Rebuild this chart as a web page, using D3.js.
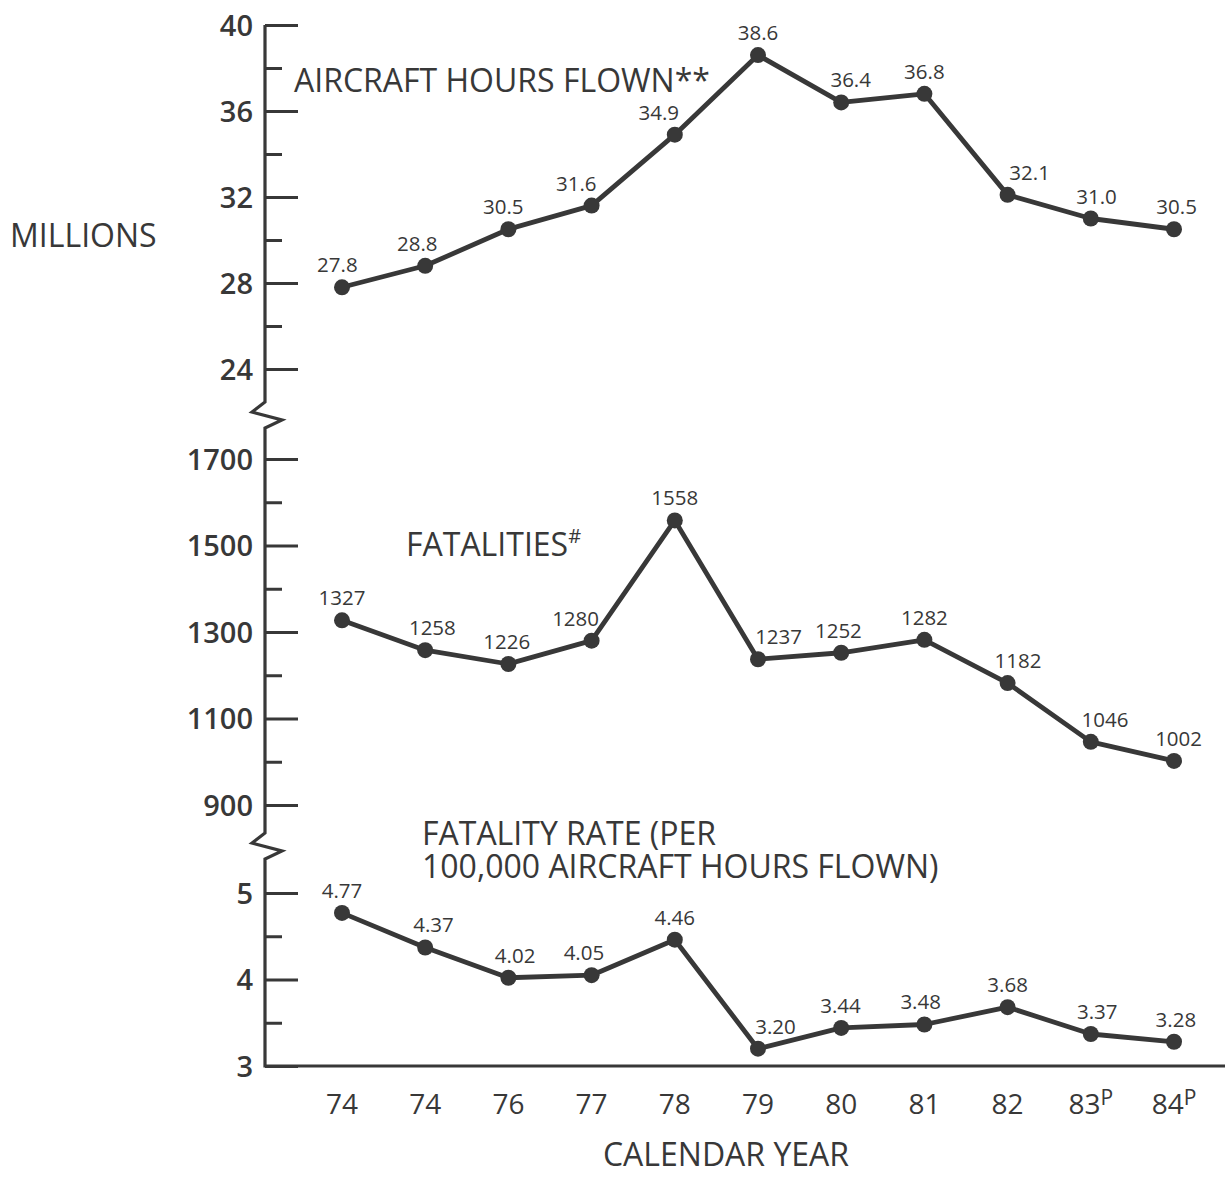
<!DOCTYPE html>
<meta charset="utf-8">
<style>
body { margin: 0; background: #fff; }
svg { display: block; font-family: "Open Sans", "Noto Sans", sans-serif; }
.ink { stroke: #383838; }
.tick text { fill: #383838; }
.axis path.domain { display: none; }
.axis line { stroke: #383838; stroke-width: 3; }
.series path { fill: none; stroke: #383838; stroke-width: 4.8; stroke-linejoin: round; }
.series circle { fill: #383838; }
.vlabel { fill: #383838; font-size: 20.5px; text-anchor: middle; }
.title { fill: #383838; font-size: 32px; }
</style>
<body>
<svg></svg>
</body>
<script src="https://cdn.jsdelivr.net/npm/d3@7"></script>
<script>

// data
var years = ["74", "74", "76", "77", "78", "79", "80", "81", "82", "83", "84"];
var yearSuffix = ["", "", "", "", "", "", "", "", "", "P", "P"];
var hoursFlown = [27.8, 28.8, 30.5, 31.6, 34.9, 38.6, 36.4, 36.8, 32.1, 31.0, 30.5];
var fatalities = [1327, 1258, 1226, 1280, 1558, 1237, 1252, 1282, 1182, 1046, 1002];
var fatalityRate = [4.77, 4.37, 4.02, 4.05, 4.46, 3.20, 3.44, 3.48, 3.68, 3.37, 3.28];

var hoursTicks = [24, 28, 32, 36, 40];
var hoursMinor = [26, 30, 34, 38];
var fatalTicks = [900, 1100, 1300, 1500, 1700];
var fatalMinor = [1000, 1200, 1400, 1600];
var rateTicks = [3, 4, 5];
var rateMinor = [3.5, 4.5];

var width = 1225, height = 1177;
var axisX = 265;

var svg = d3.select("svg").attr("width", width).attr("height", height);

var x = d3.scalePoint()
    .domain(d3.range(years.length))
    .range([342, 1174]);

var yHours = d3.scaleLinear().domain([24, 40]).range([369, 25]);
var yFatal = d3.scaleLinear().domain([900, 1700]).range([805, 459]);
var yRate = d3.scaleLinear().domain([3, 5]).range([1066, 893]);

function drawAxis(scale, major, minor) {
  var g = svg.append("g")
      .attr("class", "axis")
      .attr("transform", "translate(" + axisX + ",0)");
  g.call(d3.axisRight(scale).tickValues(major).tickSize(33).tickFormat(d3.format("d")));
  g.selectAll(".tick text")
      .attr("x", -12)
      .attr("dy", "0.36em")
      .style("text-anchor", "end")
      .style("font-size", "29px")
      .style("font-weight", 600)
      .style("font-family", "'Open Sans', sans-serif");
  var m = svg.append("g")
      .attr("class", "axis")
      .attr("transform", "translate(" + axisX + ",0)");
  m.call(d3.axisRight(scale).tickValues(minor).tickSize(17).tickFormat(""));
}

drawAxis(yHours, hoursTicks, hoursMinor);
drawAxis(yFatal, fatalTicks, fatalMinor);
drawAxis(yRate, rateTicks, rateMinor);

// vertical axis with the two breaks
var brk1 = 402, brk2 = 833;
var axisPath = d3.path();
axisPath.moveTo(axisX, yHours(40));
axisPath.lineTo(axisX, brk1);
axisPath.lineTo(axisX - 13, brk1 + 10);
axisPath.lineTo(axisX + 17, brk1 + 18);
axisPath.lineTo(axisX, brk1 + 26);
axisPath.lineTo(axisX, brk2);
axisPath.lineTo(axisX - 13, brk2 + 10);
axisPath.lineTo(axisX + 17, brk2 + 18);
axisPath.lineTo(axisX, brk2 + 26);
axisPath.lineTo(axisX, yRate(3));
axisPath.lineTo(width, yRate(3));

svg.append("path")
    .attr("class", "ink")
    .attr("d", axisPath.toString())
    .attr("fill", "none")
    .attr("stroke-width", 3.2)
    .attr("stroke-linejoin", "miter");

// x labels
var xl = svg.append("g")
  .selectAll("text")
  .data(years)
  .enter().append("text")
    .attr("x", function(d, i) { return x(i); })
    .attr("y", yRate(3) + 48)
    .style("text-anchor", "middle")
    .style("font-size", "28px")
    .style("font-weight", 500)
    .style("fill", "#383838");
xl.append("tspan").text(function(d) { return d; });
xl.append("tspan")
    .attr("dy", -9)
    .style("font-size", "21px")
    .text(function(d, i) { return yearSuffix[i]; });

// nudge a value label sideways so it clears the line segments next to it
function labelShift(values, y, i) {
  var shift = 0, step = x(1) - x(0), py = y(values[i]);
  if (i > 0 && y(values[i - 1]) < py) {
    shift += Math.min(22, (py - y(values[i - 1])) / step * 20);
  }
  if (i < values.length - 1 && y(values[i + 1]) < py) {
    shift -= Math.min(16, (py - y(values[i + 1])) / step * 18);
  }
  return shift;
}

function drawSeries(values, y, fmt) {
  var g = svg.append("g").attr("class", "series");
  var line = d3.line()
      .x(function(d, i) { return x(i); })
      .y(function(d) { return y(d); });
  g.append("path").attr("d", line(values));
  g.selectAll("circle")
    .data(values)
    .enter().append("circle")
      .attr("cx", function(d, i) { return x(i); })
      .attr("cy", function(d) { return y(d); })
      .attr("r", 8);
  g.selectAll("text")
    .data(values)
    .enter().append("text")
      .attr("class", "vlabel")
      .attr("x", function(d, i) { return x(i) + labelShift(values, y, i); })
      .attr("y", function(d) { return y(d) - 15; })
      .text(fmt);
}

drawSeries(hoursFlown, yHours, d3.format(".1f"));
drawSeries(fatalities, yFatal, d3.format("d"));
drawSeries(fatalityRate, yRate, d3.format(".2f"));

// titles
svg.append("text").attr("class", "title")
    .attr("x", 294).attr("y", 92)
    .text("AIRCRAFT HOURS FLOWN**");

var fat = svg.append("text").attr("class", "title")
    .attr("x", 406).attr("y", 556);
fat.append("tspan").text("FATALITIES");
fat.append("tspan").attr("dy", -13).style("font-size", "20px").text("#");

svg.append("text").attr("class", "title")
    .attr("x", 422).attr("y", 845)
    .text("FATALITY RATE (PER");
svg.append("text").attr("class", "title")
    .attr("x", 422).attr("y", 878)
    .text("100,000 AIRCRAFT HOURS FLOWN)");

svg.append("text").attr("class", "title")
    .attr("x", 10).attr("y", 247)
    .text("MILLIONS");

svg.append("text").attr("class", "title")
    .attr("x", 726).attr("y", 1166)
    .style("text-anchor", "middle")
    .text("CALENDAR YEAR");

</script>
